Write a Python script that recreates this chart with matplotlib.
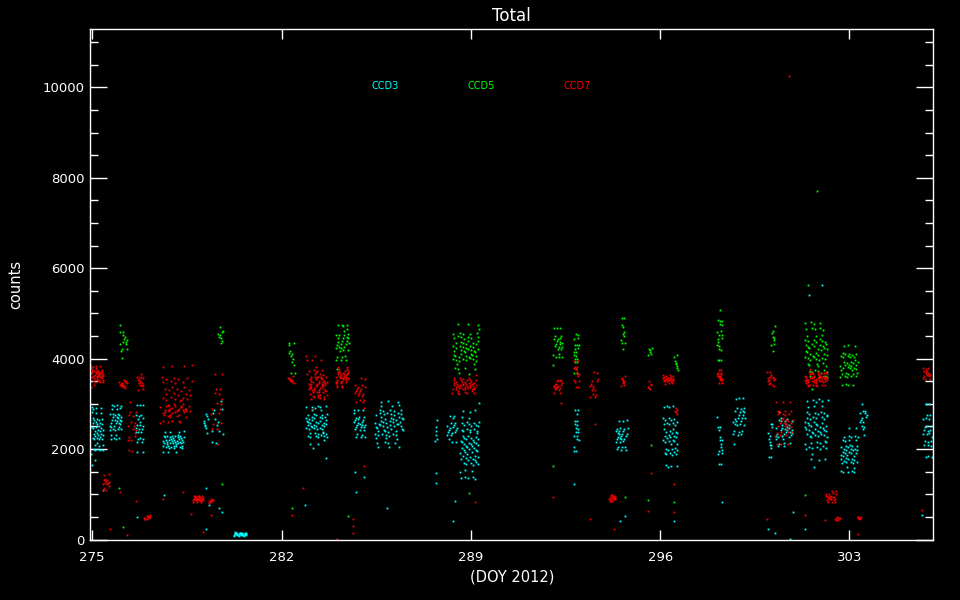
import numpy as np
import matplotlib
matplotlib.use('Agg')
import matplotlib.pyplot as plt
from matplotlib.ticker import MultipleLocator

# cluster extents: day range, count range, number of dots
ccd3_day_lo = [274.95, 275.65, 276.60, 277.60, 279.10, 279.40, 280.20, 282.90, 284.65, 285.45, 287.68, 288.10,
               288.60, 292.80, 294.35, 296.10, 298.10, 298.70, 300.00, 300.25, 301.35, 302.65, 303.40, 305.70]
ccd3_day_hi = [275.40, 276.10, 276.90, 278.40, 279.30, 279.85, 280.70, 283.70, 285.10, 286.50, 287.75, 288.50,
               289.30, 293.00, 294.80, 296.65, 298.30, 299.15, 300.15, 300.90, 302.20, 303.30, 303.65, 306.08]
ccd3_cnt_lo = [1600, 2030, 1740, 1900, 2200, 1900, 70, 2000, 2100, 1960, 2020, 1960,
               1140, 1580, 1800, 1360, 1580, 2030, 1580, 1960, 1580, 1300, 2180, 1740]
ccd3_cnt_hi = [3100, 3230, 3070, 2480, 2900, 3100, 180, 3070, 3070, 3140, 2770, 2900,
               3070, 3070, 2850, 3070, 2920, 3340, 2770, 2850, 3290, 2560, 3070, 3230]
ccd3_npts = [50, 40, 25, 50, 9, 12, 30, 60, 28, 70, 6, 20,
             75, 18, 30, 50, 15, 30, 12, 35, 70, 50, 15, 26]

ccd5_day_lo = [276.00, 279.65, 282.25, 284.00, 288.30, 292.05, 292.80, 294.55, 295.55, 296.50, 298.10, 300.10, 301.35, 302.65]
ccd5_day_hi = [276.30, 279.85, 282.50, 284.50, 289.30, 292.40, 293.00, 294.70, 295.70, 296.65, 298.30, 300.25, 302.20, 303.30]
ccd5_cnt_lo = [3900, 4200, 3400, 3740, 3580, 3800, 3400, 4030, 4030, 3550, 3800, 4100, 3290, 3250]
ccd5_cnt_hi = [4850, 4780, 4500, 5000, 4850, 4850, 4780, 4920, 4400, 4250, 5220, 4800, 5020, 4370]
ccd5_npts = [15, 9, 12, 35, 65, 24, 20, 11, 6, 8, 20, 9, 65, 45]

ccd7_day_lo = [274.93, 275.40, 276.00, 276.30, 276.65, 276.90, 277.50, 277.60, 278.70, 279.30, 279.40, 282.25,
               282.90, 283.00, 284.00, 284.70, 288.30, 292.05, 292.80, 293.40, 294.10, 294.55, 295.55, 296.10,
               296.55, 298.10, 299.95, 300.25, 301.35, 302.10, 302.45, 303.30, 305.70]
ccd7_day_hi = [275.40, 275.65, 276.30, 276.65, 276.90, 277.15, 278.70, 278.50, 279.10, 279.45, 279.85, 282.50,
               283.70, 283.60, 284.50, 285.10, 289.20, 292.40, 293.00, 293.70, 294.35, 294.70, 295.70, 296.50,
               296.65, 298.30, 300.25, 300.90, 302.20, 302.50, 302.65, 303.45, 306.00]
ccd7_cnt_lo = [3350, 1000, 3300, 1740, 3250, 400, 2480, 2500, 800, 800, 1900, 3400,
               2850, 3020, 3330, 2850, 3140, 3180, 3290, 2920, 780, 3330, 3290, 3400,
               2740, 3400, 3290, 2030, 3330, 800, 400, 430, 3440]
ccd7_cnt_hi = [3900, 1550, 3580, 3140, 3700, 560, 4100, 3100, 1030, 900, 3900, 3650,
               4250, 3760, 3850, 3700, 3660, 3660, 4030, 3810, 1030, 3700, 3550, 3700,
               2960, 3780, 3740, 3230, 3780, 1100, 520, 530, 3850]
ccd7_npts = [45, 15, 14, 18, 15, 10, 45, 30, 26, 7, 18, 9,
             35, 35, 40, 20, 50, 18, 15, 15, 16, 9, 6, 25,
             5, 18, 15, 35, 55, 22, 7, 7, 16]

# single stray dots
ccd3_x = [275.4, 277.65, 279.2, 279.3, 279.7, 279.8, 279.2, 282.85, 284.75, 276.65, 298.3, 300.9, 300.0, 300.25,
          301.35, 300.8, 305.7, 292.8, 294.7, 294.5, 296.5, 283.65, 284.7, 285.9, 287.7, 287.7, 288.4, 288.35,
          285.05, 302.0, 301.5]
ccd3_y = [1100, 990, 1130, 770, 700, 600, 240, 770, 1040, 490, 820, 600, 240, 150,
          240, 20, 550, 1220, 510, 400, 400, 1810, 1500, 700, 1260, 1480, 860, 400,
          1390, 5620, 5400]
ccd5_x = [276.0, 279.8, 276.15, 282.4, 284.45, 301.35, 292.05, 294.7, 295.55, 296.5, 295.65, 288.95, 301.45, 301.8]
ccd5_y = [1150, 1220, 270, 700, 510, 990, 1620, 930, 880, 820, 2080, 1020, 5620, 7710]
ccd7_x = [276.03, 276.6, 275.65, 276.3, 277.6, 278.35, 278.65, 279.1, 279.4, 282.4, 284.65, 284.65, 284.65, 282.8,
          299.95, 301.35, 302.1, 303.3, 305.7, 292.05, 293.4, 294.3, 292.35, 293.6, 295.65, 295.55, 296.5, 296.5,
          284.05, 285.05, 289.15, 300.75]
ccd7_y = [1040, 860, 240, 90, 890, 1040, 570, 170, 550, 550, 150, 300, 460, 1130,
          460, 550, 440, 130, 660, 930, 460, 240, 3030, 2560, 1480, 620, 1220, 600,
          20, 1620, 840, 10260]

ccd_names = ['CCD3', 'CCD5', 'CCD7']
ccd_colors = ['#00ffff', '#00ff00', '#ff0000']
day_ticks = [275, 282, 289, 296, 303]


def spread(lo, hi, clo, chi, npts, start):
    # quasi-even filling of one cluster box, denser toward the middle in counts
    k = np.arange(npts) + start
    u = (0.5 + k * 0.8191725134) % 1
    v = (0.5 + k * 0.6710436067) % 1
    w = (0.5 + k * 0.5497004779) % 1
    return lo + u * (hi - lo), clo + (v + w) / 2 * (chi - clo)


def cloud(day_lo, day_hi, cnt_lo, cnt_hi, npts, sx, sy):
    xs, ys = [list(sx)], [list(sy)]
    start = 0
    for a, b, c, d, n in zip(day_lo, day_hi, cnt_lo, cnt_hi, npts):
        x, y = spread(a, b, c, d, n, start)
        start += n
        xs.append(x)
        ys.append(y)
    return np.concatenate(xs), np.concatenate(ys)


clouds = [cloud(ccd3_day_lo, ccd3_day_hi, ccd3_cnt_lo, ccd3_cnt_hi, ccd3_npts, ccd3_x, ccd3_y),
          cloud(ccd5_day_lo, ccd5_day_hi, ccd5_cnt_lo, ccd5_cnt_hi, ccd5_npts, ccd5_x, ccd5_y),
          cloud(ccd7_day_lo, ccd7_day_hi, ccd7_cnt_lo, ccd7_cnt_hi, ccd7_npts, ccd7_x, ccd7_y)]

fig = plt.figure(figsize=(9.6, 6), dpi=100, facecolor='black')
ax = fig.add_axes([0.0941, 0.1008, 0.8781, 0.8509], facecolor='black')

for (x, y), c in zip(clouds, ccd_colors):
    ax.plot(x, y, 's', color=c, markersize=1.3, markeredgewidth=0, linestyle='none')

ax.set_xlim(274.93, 306.1)
ax.set_ylim(0, 11290)
ax.set_xticks(day_ticks)
ax.set_xticklabels([str(d) for d in day_ticks])
ax.yaxis.set_major_locator(MultipleLocator(2000))
ax.yaxis.set_minor_locator(MultipleLocator(500))
ax.tick_params(axis='both', which='both', direction='in', colors='white',
               top=True, right=True, labelsize=9.5)
ax.tick_params(axis='x', which='major', length=7, width=1, pad=8)
ax.tick_params(axis='y', which='major', length=12, width=1, pad=4)
ax.tick_params(axis='y', which='minor', length=6, width=1)
for s in ax.spines.values():
    s.set_color('white')
    s.set_linewidth(1)

ax.set_title('Total', color='white', fontsize=12, pad=6)
ax.set_xlabel('(DOY 2012)', color='white', fontsize=10.5, labelpad=4)
ax.set_ylabel('counts', color='white', fontsize=10.5, labelpad=14)

label_x = [0.333, 0.447, 0.561]
for lx, name, c in zip(label_x, ccd_names, ccd_colors):
    ax.text(lx, 0.889, name, color=c, fontsize=7, transform=ax.transAxes, va='center', ha='left')

fig.savefig('out.png', dpi=100, facecolor='black')
